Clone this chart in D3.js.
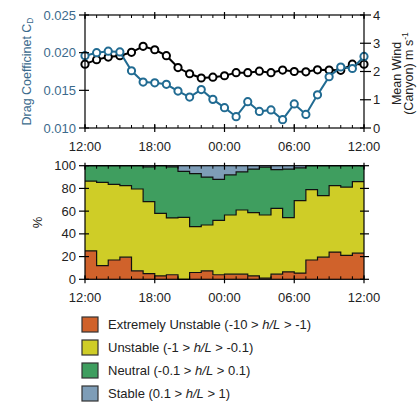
<!DOCTYPE html>
<html>
<head>
<meta charset="utf-8">
<script src="https://d3js.org/d3.v7.min.js"></script>
<style>
  body { margin: 0; background: #fff; }
  text { font-family: "Liberation Sans", Arial, sans-serif; }
</style>
</head>
<body>
<svg id="chart" width="417" height="403"></svg>
<script>
// hour index from 12:00 to 12:00 next day
var hours = [0,1,2,3,4,5,6,7,8,9,10,11,12,13,14,15,16,17,18,19,20,21,22,23,24];
var timeTicks = [0, 6, 12, 18, 24];
var timeLabels = ["12:00", "18:00", "00:00", "06:00", "12:00"];

var dragCoef = [0.0196,0.0200,0.0202,0.0201,0.0176,0.0161,0.0160,0.0158,0.0149,0.0141,0.0151,0.0138,
                0.0127,0.0115,0.0135,0.0122,0.0124,0.0111,0.0132,0.0118,0.0144,0.0168,0.0181,0.0179,0.0195];
var meanWind = [2.26,2.42,2.51,2.56,2.68,2.89,2.77,2.56,2.14,1.92,1.77,1.80,
                1.85,1.96,1.96,2.01,1.96,2.05,2.00,1.99,2.06,2.05,2.04,2.26,2.26];

// stability class percentages, one per hourly bin
var extremelyUnstable = [25,12,17,19.5,7.5,5,3,4,0,6,7.5,4,4.5,4.5,3,1,4.5,6.5,5.5,17,19.5,24,21,23];
var unstable = [61.5,73.3,66.6,62.9,72,63.3,55.1,50,54.5,40.3,40.3,47.9,52.1,56.5,55.7,55.6,58,47.8,63.7,61.9,54.1,58.4,60.2,62.9];
var neutral = [13.5,14.7,16.4,17.6,20.5,30.7,41.9,45,40.5,46.7,42.2,36.1,35.4,33.5,38.3,42.2,34,42.7,28.8,21.1,26.4,17.6,18.8,14.1];
var stable = [0,0,0,0,0,1,0,1,5,7,10,12,8,5.5,3,1.2,3.5,3,2,0,0,0,0,0];

var classKeys = ["eu", "u", "n", "s"];
var classColors = ["#d0622b", "#cfcd27", "#3f9e5f", "#7e9db7"];
var classNames = [
  ["Extremely Unstable (-10 > ", "h/L", " > -1)"],
  ["Unstable (-1 > ", "h/L", " > -0.1)"],
  ["Neutral (-0.1 > ", "h/L", " > 0.1)"],
  ["Stable (0.1 > ", "h/L", " > 1)"]
];

var blue = "#216b92";
var labelBlue = "#3b6a8c";

var svg = d3.select("#chart");
var left = 85, right = 364;

var x = d3.scaleLinear().domain([0, 24]).range([left, right]);

// ---------- top panel ----------
var top1 = 15, bot1 = 128;
var yC = d3.scaleLinear().domain([0.010, 0.025]).range([bot1, top1]);
var yW = d3.scaleLinear().domain([0, 4]).range([bot1, top1]);

var g1 = svg.append("g");

function frame(g, t, b) {
  g.append("rect").attr("x", left).attr("y", t).attr("width", right - left).attr("height", b - t)
    .attr("fill", "none").attr("stroke", "#000").attr("stroke-width", 1.2);
}

function timeAxes(g, t, b, labelY) {
  // top hourly ticks pointing in
  g.selectAll(".tt").data(hours).enter().append("line")
    .attr("x1", d => x(d)).attr("x2", d => x(d))
    .attr("y1", t).attr("y2", t + 3)
    .attr("stroke", "#000").attr("stroke-width", 1);
  // bottom hourly minor ticks
  g.selectAll(".bt").data(hours).enter().append("line")
    .attr("x1", d => x(d)).attr("x2", d => x(d))
    .attr("y1", b - 3).attr("y2", b)
    .attr("stroke", "#000").attr("stroke-width", 1);
  // major ticks crossing
  g.selectAll(".mt").data(timeTicks).enter().append("line")
    .attr("x1", d => x(d)).attr("x2", d => x(d))
    .attr("y1", t - 3).attr("y2", t + 4)
    .attr("stroke", "#000").attr("stroke-width", 1.2);
  g.selectAll(".mb").data(timeTicks).enter().append("line")
    .attr("x1", d => x(d)).attr("x2", d => x(d))
    .attr("y1", b - 4).attr("y2", b + 4)
    .attr("stroke", "#000").attr("stroke-width", 1.2);
  g.selectAll(".tl").data(timeTicks).enter().append("text")
    .attr("x", d => x(d)).attr("y", labelY)
    .attr("text-anchor", "middle").attr("font-size", 13).attr("fill", "#222")
    .text((d, i) => timeLabels[i]);
}

var lineC = d3.line().x((d, i) => x(hours[i])).y(d => yC(d));
var lineW = d3.line().x((d, i) => x(hours[i])).y(d => yW(d));

g1.append("path").datum(meanWind).attr("d", lineW)
  .attr("fill", "none").attr("stroke", "#000").attr("stroke-width", 2);
g1.selectAll(".pw").data(meanWind).enter().append("circle")
  .attr("cx", (d, i) => x(hours[i])).attr("cy", d => yW(d)).attr("r", 3.6)
  .attr("fill", "#fff").attr("stroke", "#000").attr("stroke-width", 2);

g1.append("path").datum(dragCoef).attr("d", lineC)
  .attr("fill", "none").attr("stroke", blue).attr("stroke-width", 2);
g1.selectAll(".pc").data(dragCoef).enter().append("circle")
  .attr("cx", (d, i) => x(hours[i])).attr("cy", d => yC(d)).attr("r", 3.6)
  .attr("fill", "#fff").attr("stroke", blue).attr("stroke-width", 2);

frame(g1, top1, bot1);
timeAxes(g1, top1, bot1, 151);

var cTicks = [0.010, 0.015, 0.020, 0.025];
g1.selectAll(".ct").data(cTicks).enter().append("line")
  .attr("x1", left - 6).attr("x2", left + 4)
  .attr("y1", d => yC(d)).attr("y2", d => yC(d))
  .attr("stroke", "#000").attr("stroke-width", 1.2);
g1.selectAll(".cl").data(cTicks).enter().append("text")
  .attr("x", left - 9).attr("y", d => yC(d) + 4.5)
  .attr("text-anchor", "end").attr("font-size", 13).attr("fill", labelBlue)
  .text(d => d3.format(".3f")(d));

var wTicks = [0, 1, 2, 3, 4];
g1.selectAll(".wt").data(wTicks).enter().append("line")
  .attr("x1", right - 4).attr("x2", right + 7)
  .attr("y1", d => yW(d)).attr("y2", d => yW(d))
  .attr("stroke", "#000").attr("stroke-width", 1.2);
g1.selectAll(".wl").data(wTicks).enter().append("text")
  .attr("x", right + 9).attr("y", d => yW(d) + 4.5)
  .attr("text-anchor", "start").attr("font-size", 13).attr("fill", "#222")
  .text(d => d);

var cLab = g1.append("text")
  .attr("transform", "translate(31," + ((top1 + bot1) / 2) + ") rotate(-90)")
  .attr("text-anchor", "middle").attr("font-size", 12.5).attr("fill", labelBlue);
cLab.append("tspan").text("Drag Coefficinet C");
cLab.append("tspan").attr("font-size", 8.5).attr("dy", 2).text("D");

g1.append("text")
  .attr("transform", "translate(401," + ((top1 + bot1) / 2 + 2) + ") rotate(-90)")
  .attr("text-anchor", "middle").attr("font-size", 12.5).attr("fill", "#222")
  .text("Mean Wind");
var wLab = g1.append("text")
  .attr("transform", "translate(413," + ((top1 + bot1) / 2 + 2) + ") rotate(-90)")
  .attr("text-anchor", "middle").attr("font-size", 12.5).attr("fill", "#222");
wLab.append("tspan").text("(Canyon) m s");
wLab.append("tspan").attr("font-size", 8.5).attr("dy", -5).text("-1");

// ---------- bottom panel ----------
var top2 = 165.7, bot2 = 279.3;
var yP = d3.scaleLinear().domain([0, 100]).range([bot2, top2]);
var g2 = svg.append("g");

// repeat last bin so the step reaches the right edge
var rows = hours.map(function(h, i) {
  var j = Math.min(i, 23);
  return { h: h, eu: extremelyUnstable[j], u: unstable[j], n: neutral[j], s: stable[j] };
});
var series = d3.stack().keys(classKeys)(rows);

var area = d3.area().curve(d3.curveStepAfter)
  .x(d => x(d.data.h)).y0(d => yP(d[0])).y1(d => yP(d[1]));
var edge = d3.line().curve(d3.curveStepAfter)
  .x(d => x(d.data.h)).y(d => yP(d[1]));

g2.selectAll(".ar").data(series).enter().append("path")
  .attr("d", area).attr("fill", (d, i) => classColors[i]);
g2.selectAll(".ed").data(series.slice(0, 3)).enter().append("path")
  .attr("d", edge).attr("fill", "none").attr("stroke", "#111").attr("stroke-width", 1.2);

frame(g2, top2, bot2);
timeAxes(g2, top2, bot2, 302);

var pTicks = [0, 20, 40, 60, 80, 100];
g2.selectAll(".pt").data(pTicks).enter().append("line")
  .attr("x1", left - 6).attr("x2", left + 4)
  .attr("y1", d => yP(d)).attr("y2", d => yP(d))
  .attr("stroke", "#000").attr("stroke-width", 1.2);
g2.selectAll(".prt").data(pTicks).enter().append("line")
  .attr("x1", right - 4).attr("x2", right + 5)
  .attr("y1", d => yP(d)).attr("y2", d => yP(d))
  .attr("stroke", "#000").attr("stroke-width", 1.2);
g2.selectAll(".pl").data(pTicks).enter().append("text")
  .attr("x", left - 9).attr("y", d => yP(d) + 4.5)
  .attr("text-anchor", "end").attr("font-size", 13).attr("fill", "#222")
  .text(d => d);
g2.append("text")
  .attr("transform", "translate(42," + ((top2 + bot2) / 2) + ") rotate(-90)")
  .attr("text-anchor", "middle").attr("font-size", 13).attr("fill", "#222")
  .text("%");

// ---------- legend ----------
var lg = svg.append("g");
var legY = [317, 340, 363, 386];
lg.selectAll(".lb").data(classColors).enter().append("rect")
  .attr("x", 82).attr("y", (d, i) => legY[i]).attr("width", 16).attr("height", 15)
  .attr("fill", d => d).attr("stroke", "#333").attr("stroke-width", 1.2);
lg.selectAll(".lt").data(classNames).enter().append("text")
  .attr("x", 108).attr("y", (d, i) => legY[i] + 12)
  .attr("font-size", 13).attr("fill", "#222")
  .each(function(d) {
    var t = d3.select(this);
    t.append("tspan").text(d[0]);
    t.append("tspan").attr("font-style", "italic").text(d[1]);
    t.append("tspan").text(d[2]);
  });
</script>
</body>
</html>
